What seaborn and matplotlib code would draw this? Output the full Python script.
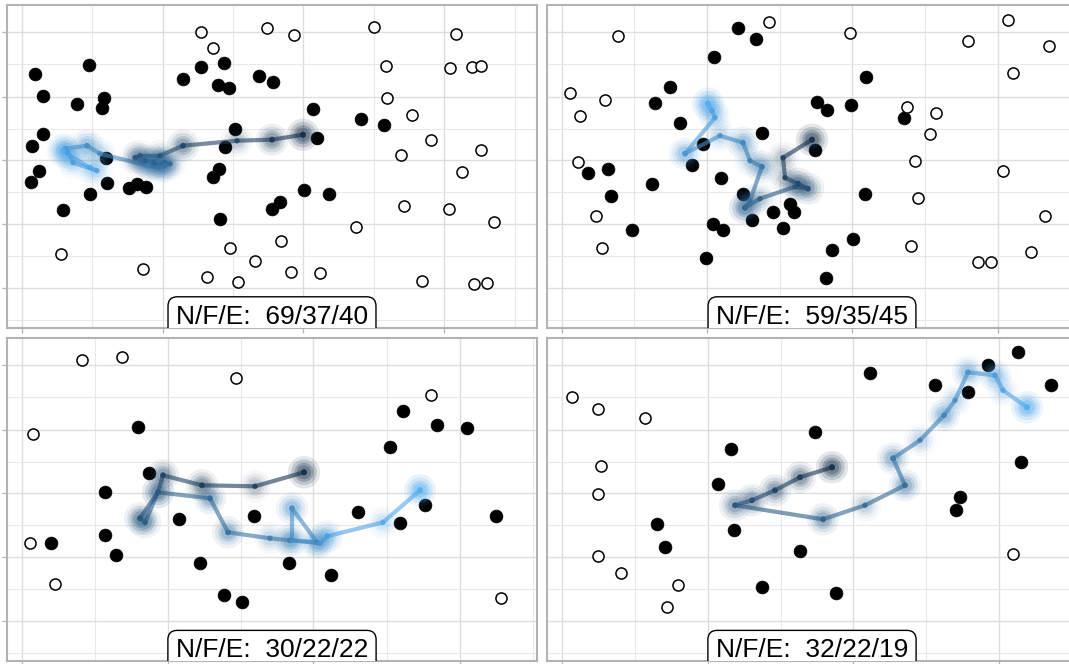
import numpy as np
import matplotlib
matplotlib.use("Agg")
import matplotlib.pyplot as plt
from matplotlib.collections import LineCollection
from matplotlib.colors import LinearSegmentedColormap
import seaborn as sns

# labels of the four panels
labels = ["N/F/E:  69/37/40", "N/F/E:  59/35/45", "N/F/E:  30/22/22", "N/F/E:  32/22/19"]

# panel 1
p1_filled = [(28, 254), (82, 263), (36, 232), (70, 224), (97, 230), (95, 220), (36, 194), (25, 182),
             (32, 157), (24, 146), (99, 170), (100, 145), (83, 134), (56, 118), (122, 140), (130, 144),
             (139, 141), (176, 249), (194, 261), (217, 265), (211, 243), (222, 240), (252, 252), (266, 246),
             (228, 199), (218, 181), (212, 159), (206, 151), (213, 109), (265, 119), (273, 126), (297, 138),
             (322, 134), (306, 219), (310, 190), (354, 209), (377, 203)]
p1_open = [(194, 296), (260, 300), (287, 293), (206, 280), (367, 301), (449, 294), (379, 262), (443, 260),
           (465, 261), (474, 262), (380, 230), (405, 213), (424, 188), (394, 173), (474, 178), (455, 156),
           (397, 122), (442, 119), (487, 106), (349, 101), (54, 74), (136, 59), (200, 51), (231, 46),
           (223, 80), (248, 67), (274, 87), (284, 56), (313, 55), (415, 47), (467, 44), (480, 45)]
p1_path = [(296, 193), (296, 193), (296, 193), (265, 188), (265, 188), (230, 187), (176, 182), (176, 182),
           (153, 172), (133, 172), (128, 170), (138, 167), (148, 165), (158, 165), (153, 162), (163, 164),
           (143, 164), (133, 167), (151, 167), (158, 162), (153, 160), (141, 162), (93, 174), (80, 182),
           (80, 182), (58, 179), (61, 175), (66, 165), (90, 157), (83, 160), (63, 172), (56, 177), (56, 177)]

# panel 2
p2_filled = [(191, 300), (209, 289), (167, 271), (319, 251), (108, 225), (123, 241), (133, 205), (270, 226),
             (280, 218), (215, 195), (156, 184), (268, 178), (145, 163), (174, 150), (196, 134), (226, 116),
             (243, 124), (247, 116), (205, 108), (166, 104), (236, 100), (176, 98), (304, 223), (357, 210),
             (61, 159), (41, 155), (64, 132), (105, 144), (85, 98), (159, 70), (279, 50), (285, 78),
             (306, 89), (318, 134)]
p2_open = [(222, 306), (71, 292), (461, 308), (502, 282), (421, 287), (303, 295), (466, 255), (23, 235),
           (58, 228), (33, 212), (360, 221), (389, 215), (383, 194), (31, 166), (368, 167), (456, 157),
           (371, 130), (49, 112), (498, 112), (55, 80), (364, 82), (484, 76), (431, 66), (444, 66)]
p2_path = [(265, 188), (265, 188), (265, 188), (236, 170), (238, 150), (251, 144), (251, 144), (261, 139),
           (261, 139), (248, 141), (213, 129), (198, 120), (198, 120), (198, 120), (203, 127), (215, 161),
           (215, 161), (203, 167), (196, 185), (196, 185), (173, 192), (138, 174), (138, 174), (168, 210),
           (165, 217), (161, 224), (161, 224), (161, 224)]

# panel 3
p3_filled = [(131, 234), (396, 250), (430, 236), (460, 233), (383, 214), (142, 188), (98, 169), (172, 142),
             (247, 145), (351, 149), (418, 156), (393, 138), (98, 126), (44, 118), (109, 106), (193, 98),
             (282, 98), (324, 86), (217, 66), (235, 59), (489, 145)]
p3_open = [(75, 301), (115, 304), (229, 283), (26, 227), (424, 266), (23, 118), (48, 77), (494, 63)]
p3_path = [(297, 189), (297, 189), (297, 189), (248, 175), (195, 176), (195, 176), (156, 186), (156, 186),
           (151, 169), (151, 169), (133, 143), (133, 143), (138, 139), (138, 139), (151, 169), (203, 163),
           (203, 163), (221, 129), (221, 129), (263, 123), (283, 121), (283, 121), (310, 119), (310, 119),
           (285, 153), (285, 153), (285, 121), (313, 118), (320, 125), (320, 125), (376, 139), (413, 171),
           (413, 171), (413, 171)]

# panel 4
p4_filled = [(441, 296), (471, 309), (504, 276), (323, 288), (388, 276), (421, 269), (184, 212), (268, 229),
             (171, 177), (253, 110), (110, 137), (118, 114), (187, 131), (215, 74), (289, 68), (413, 164),
             (409, 151), (474, 199)]
p4_open = [(25, 264), (51, 252), (98, 243), (54, 195), (51, 167), (51, 105), (74, 88), (131, 76),
           (120, 54), (466, 107)]
p4_path = [(285, 194), (285, 194), (285, 194), (253, 184), (253, 184), (228, 171), (228, 171), (205, 161),
           (205, 161), (188, 156), (188, 156), (276, 142), (276, 142), (318, 156), (358, 176), (358, 176),
           (346, 203), (346, 203), (373, 221), (397, 246), (397, 246), (408, 261), (421, 289), (421, 289),
           (448, 286), (448, 286), (456, 271), (480, 254), (480, 254), (480, 254)]

panels = [(p1_filled, p1_open, p1_path), (p2_filled, p2_open, p2_path),
          (p3_filled, p3_open, p3_path), (p4_filled, p4_open, p4_path)]

# grid positions (free x scales, shared y)
x_major = [[15, 156, 296, 437], [15, 160, 305, 451], [15, 161, 306, 453], [15, 161, 306, 452]]
x_minor = [[85, 226, 367, 508], [87, 233, 378, 524], [88, 234, 380, 526], [88, 234, 379, 525]]
y_major = [40, 104, 168, 231, 296]
y_minor = [8, 72, 136, 199, 264]

sns.set_theme(style="white")
plt.rcParams['font.family'] = ['Liberation Sans', 'DejaVu Sans']

W, H = 1069, 664
fig = plt.figure(figsize=(W / 100, H / 100), dpi=100)
corners = [(7, 4.7), (547, 4.7), (7, 338.3), (547, 338.3)]
pw, ph = 530, 323

cmap = LinearSegmentedColormap.from_list("gg", ["#132B43", "#56B1F7"])

# soft halo layers: (marker size, alpha)
halo = [(540, 0.04), (340, 0.06), (190, 0.09), (100, 0.1)]

for i, (filled, opened, path) in enumerate(panels):
    left, top = corners[i]
    ax = fig.add_axes([left / W, (H - top - ph) / H, pw / W, ph / H])
    ax.set_xlim(0, pw)
    ax.set_ylim(0, ph)
    ax.set_axisbelow(True)

    fx, fy = zip(*filled)
    ox, oy = zip(*opened)
    sns.scatterplot(x=list(fx), y=list(fy), ax=ax, color="black", s=85,
                    edgecolor="black", linewidth=0.5, zorder=3)
    sns.scatterplot(x=list(ox), y=list(oy), ax=ax, color="white", s=64,
                    edgecolor="black", linewidth=1.1, zorder=3)

    # path coloured by time, dark -> light
    px, py = np.array(path, dtype=float).T
    t = np.linspace(0, 1, len(px))
    pts = np.column_stack([px, py]).reshape(-1, 1, 2)
    segs = np.concatenate([pts[:-1], pts[1:]], axis=1)
    lc = LineCollection(segs, cmap=cmap, linewidth=3.0, alpha=0.6, zorder=4, capstyle="round")
    lc.set_array((t[:-1] + t[1:]) / 2)
    lc.set_clim(0, 1)
    ax.add_collection(lc)
    for size, a in halo:
        sns.scatterplot(x=px, y=py, hue=t, palette=cmap, hue_norm=(0, 1), s=size, alpha=a,
                        linewidth=0, legend=False, ax=ax, zorder=4)
    sns.scatterplot(x=px, y=py, hue=t, palette=cmap, hue_norm=(0, 1), s=18, alpha=0.6,
                    linewidth=0, legend=False, ax=ax, zorder=5)

    ax.set_xticks(x_major[i])
    ax.set_xticks(x_minor[i], minor=True)
    ax.set_yticks(y_major)
    ax.set_yticks(y_minor, minor=True)
    ax.grid(which="major", color="#dedede", linewidth=1.0)
    ax.grid(which="minor", color="#e9e9e9", linewidth=0.8)
    ax.tick_params(which="major", labelleft=False, labelbottom=False, length=3.6,
                   width=0.9, color="#b3b3b3", left=(i % 2 == 0), bottom=True)
    ax.tick_params(which="minor", length=0)
    ax.set_xlabel("")
    ax.set_ylabel("")
    for s in ax.spines.values():
        s.set_color("#b3b3b3")
        s.set_linewidth(1.5)

    ax.text(0.5, 4 / ph, labels[i], transform=ax.transAxes, ha="center", va="baseline",
            fontsize=19, color="black", zorder=6, clip_on=True,
            bbox=dict(boxstyle="round,pad=0.3,rounding_size=0.35", fc="white", ec="black", lw=1.0))

fig.savefig("out.png", dpi=100)
